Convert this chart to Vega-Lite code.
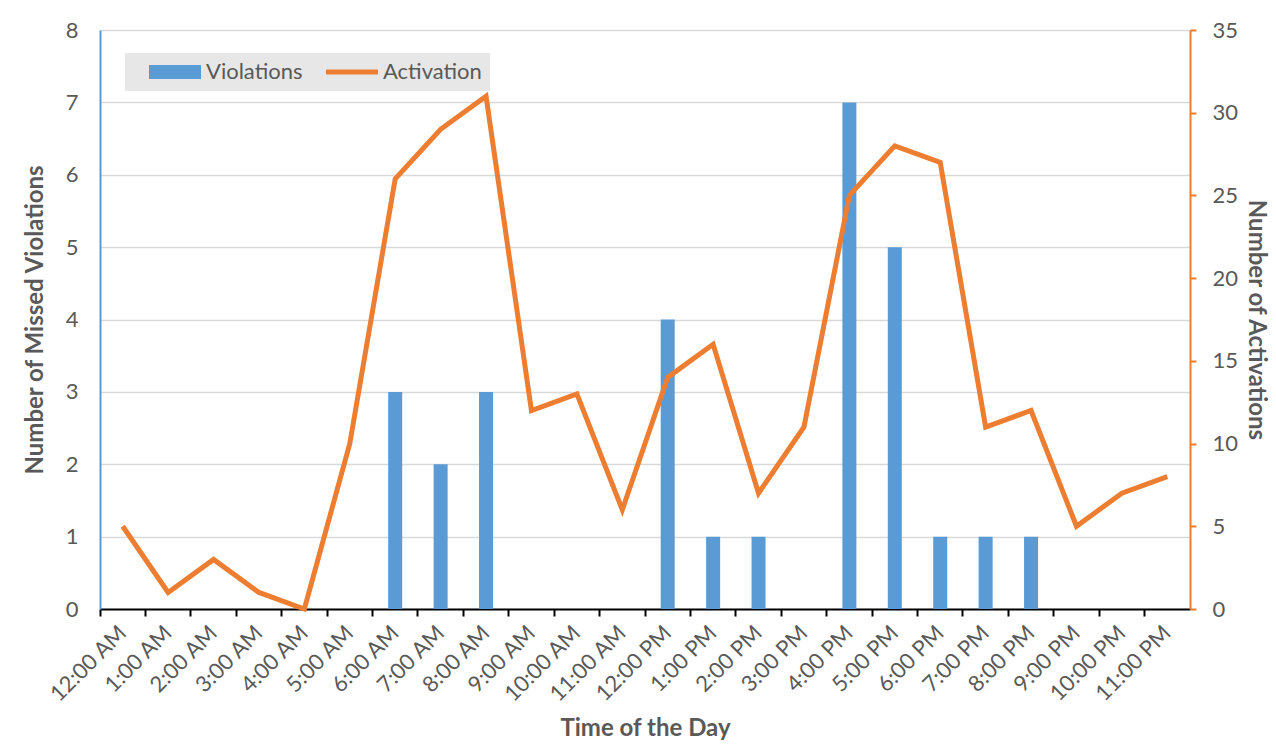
{
  "$schema": "https://vega.github.io/schema/vega-lite/v6.json",
  "width": 1090,
  "height": 579,
  "autosize": {"type": "none"},
  "padding": {"left": 100, "top": 30, "right": 86, "bottom": 138},
  "background": "white",
  "config": {
    "font": "Lato",
    "view": {"stroke": null},
    "axis": {
      "labelFont": "Lato",
      "labelFontSize": 22,
      "labelColor": "#595959",
      "titleFont": "Lato",
      "titleFontSize": 24,
      "titleFontWeight": "bold",
      "titleColor": "#595959"
    }
  },
  "data": {
    "values": [
      {"hour": "12:00 AM", "violations": 0, "activation": 5},
      {"hour": "1:00 AM", "violations": 0, "activation": 1},
      {"hour": "2:00 AM", "violations": 0, "activation": 3},
      {"hour": "3:00 AM", "violations": 0, "activation": 1},
      {"hour": "4:00 AM", "violations": 0, "activation": 0},
      {"hour": "5:00 AM", "violations": 0, "activation": 10},
      {"hour": "6:00 AM", "violations": 3, "activation": 26},
      {"hour": "7:00 AM", "violations": 2, "activation": 29},
      {"hour": "8:00 AM", "violations": 3, "activation": 31},
      {"hour": "9:00 AM", "violations": 0, "activation": 12},
      {"hour": "10:00 AM", "violations": 0, "activation": 13},
      {"hour": "11:00 AM", "violations": 0, "activation": 6},
      {"hour": "12:00 PM", "violations": 4, "activation": 14},
      {"hour": "1:00 PM", "violations": 1, "activation": 16},
      {"hour": "2:00 PM", "violations": 1, "activation": 7},
      {"hour": "3:00 PM", "violations": 0, "activation": 11},
      {"hour": "4:00 PM", "violations": 7, "activation": 25},
      {"hour": "5:00 PM", "violations": 5, "activation": 28},
      {"hour": "6:00 PM", "violations": 1, "activation": 27},
      {"hour": "7:00 PM", "violations": 1, "activation": 11},
      {"hour": "8:00 PM", "violations": 1, "activation": 12},
      {"hour": "9:00 PM", "violations": 0, "activation": 5},
      {"hour": "10:00 PM", "violations": 0, "activation": 7},
      {"hour": "11:00 PM", "violations": 0, "activation": 8}
    ]
  },
  "layer": [
    {
      "mark": {"type": "bar", "size": 14, "color": "#5b9bd5"},
      "encoding": {
        "x": {
          "field": "hour", "type": "ordinal", "sort": null,
          "scale": {"paddingInner": 0, "paddingOuter": 0},
          "axis": {
            "orient": "bottom",
            "title": "Time of the Day",
            "labelAngle": -45, "labelAlign": "right", "labelBaseline": "middle",
            "ticks": false, "domain": false, "labelPadding": 20, "titlePadding": 11
          }
        },
        "y": {
          "field": "violations", "type": "quantitative",
          "scale": {"domain": [0, 8]},
          "axis": {
            "title": "Number of Missed Violations",
            "values": [0, 1, 2, 3, 4, 5, 6, 7, 8],
            "ticks": false, "domainColor": "#5b9bd5", "domainWidth": 2,
            "gridColor": "#d9d9d9", "gridWidth": 1.5,
            "labelPadding": 22, "titlePadding": 18
          }
        },
        "color": {
          "datum": "Violations", "type": "nominal",
          "scale": {"domain": ["Violations", "Activation"], "range": ["#5b9bd5", "#ed7d31"]},
          "legend": {
            "orient": "none", "legendX": 25, "legendY": 23,
            "direction": "horizontal", "title": null,
            "fillColor": "#e7e7e7", "padding": 8,
            "symbolType": "M-3.714,-1H3.714V1H-3.714Z", "symbolSize": 196,
            "symbolStrokeWidth": 0, "symbolOffset": 31,
            "columnPadding": 7, "labelOffset": 20,
            "labelFontSize": 22, "labelColor": "#595959", "labelFont": "Lato",
            "encode": {
              "symbols": {
                "update": {
                  "shape": {"signal": "datum.value === 'Violations' ? 'M-3.714,-1H3.714V1H-3.714Z' : 'M-3.714,-0.34H3.714V0.34H-3.714Z'"},
                  "fill": {"signal": "datum.value === 'Violations' ? '#5b9bd5' : '#ed7d31'"},
                  "stroke": {"value": null},
                  "strokeWidth": {"value": 0},
                  "opacity": {"value": 1}
                }
              }
            }
          }
        }
      }
    },
    {
      "mark": {"type": "line", "strokeWidth": 5, "color": "#ed7d31"},
      "encoding": {
        "x": {
          "field": "hour", "type": "ordinal", "sort": null,
          "axis": {
            "orient": "bottom",
            "title": null, "labels": false, "bandPosition": 0,
            "ticks": true, "tickSize": 7, "tickWidth": 2, "tickColor": "#000000",
            "domainColor": "#000000", "domainWidth": 2
          }
        },
        "y": {
          "field": "activation", "type": "quantitative",
          "scale": {"domain": [0, 35]},
          "axis": {
            "orient": "right", "title": "Number of Activations",
            "values": [0, 5, 10, 15, 20, 25, 30, 35], "grid": false,
            "domainColor": "#ed7d31", "domainWidth": 2,
            "tickColor": "#ed7d31", "tickWidth": 2, "tickSize": 6,
            "labelPadding": 16, "titlePadding": 6
          }
        },
        "color": {"datum": "Activation", "type": "nominal"}
      }
    }
  ],
  "resolve": {"scale": {"y": "independent"}, "axis": {"x": "independent"}}
}
